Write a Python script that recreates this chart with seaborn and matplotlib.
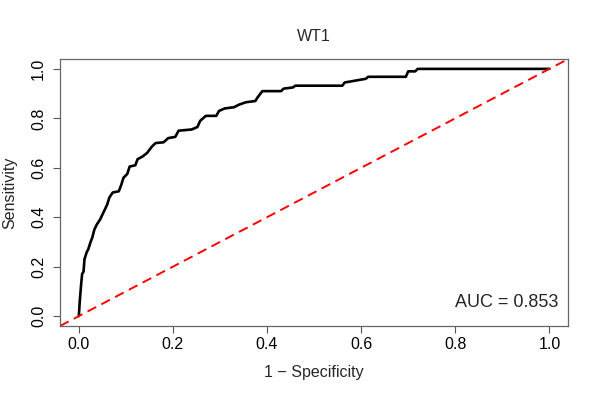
import numpy as np
import pandas as pd
import seaborn as sns
from matplotlib import pyplot as plt

# ROC curve points
fpr = [0.0, 0.002, 0.005, 0.007, 0.010, 0.012, 0.017, 0.020, 0.025, 0.029,
       0.033, 0.038, 0.045, 0.050, 0.055, 0.060, 0.065, 0.072, 0.085, 0.090,
       0.095, 0.103, 0.108, 0.120, 0.125, 0.135, 0.145, 0.155, 0.163, 0.180,
       0.190, 0.205, 0.212, 0.240, 0.252, 0.258, 0.270, 0.292, 0.298, 0.310,
       0.330, 0.340, 0.355, 0.375, 0.380, 0.390, 0.430, 0.435, 0.455, 0.460,
       0.560, 0.565, 0.580, 0.610, 0.615, 0.695, 0.700, 0.715, 0.720, 1.0]
tpr = [0.0, 0.06, 0.13, 0.17, 0.18, 0.23, 0.26, 0.27, 0.30, 0.32,
       0.35, 0.37, 0.39, 0.41, 0.43, 0.45, 0.48, 0.50, 0.505, 0.53,
       0.56, 0.575, 0.605, 0.61, 0.635, 0.645, 0.66, 0.685, 0.70, 0.703,
       0.72, 0.725, 0.75, 0.755, 0.765, 0.79, 0.81, 0.81, 0.83, 0.84,
       0.845, 0.855, 0.865, 0.87, 0.885, 0.91, 0.91, 0.92, 0.925, 0.932,
       0.932, 0.945, 0.95, 0.96, 0.968, 0.968, 0.99, 0.99, 1.0, 1.0]
auc_text = "AUC = 0.853"
ticks = [0.0, 0.2, 0.4, 0.6, 0.8, 1.0]

sns.set_style("white")
plt.rcParams['font.family'] = ['Liberation Sans', 'DejaVu Sans']

df = pd.DataFrame({"fpr": fpr, "tpr": tpr})

fig = plt.figure(figsize=(6, 4), dpi=100)
ax = fig.add_axes([0.1, 0.185, 0.847, 0.6675])

sns.lineplot(data=df, x="fpr", y="tpr", sort=False, estimator=None,
             color="black", linewidth=1.9, ax=ax)
ax.axline((0, 0), (1, 1), color="red", linestyle=(0, (5, 3)), linewidth=1.4)

ax.set_xlim(-0.04, 1.04)
ax.set_ylim(-0.04, 1.04)
ax.set_xticks(ticks)
ax.set_yticks(ticks)
ax.set_xticklabels([f"{t:.1f}" for t in ticks], fontsize=11.5)
ax.set_yticklabels([f"{t:.1f}" for t in ticks], fontsize=11.5, rotation=90, va="center")
ax.tick_params(direction="out", length=5, width=0.8, color="#555555",
               bottom=True, left=True, labelcolor="black")
ax.tick_params(axis="x", pad=3)
ax.tick_params(axis="y", pad=5)
for s in ax.spines.values():
    s.set_color("#666666")
    s.set_linewidth(0.9)

ax.set_xlabel("1 \u2212 Specificity", fontsize=11.5, labelpad=9)
ax.set_ylabel("Sensitivity", fontsize=11.5, labelpad=10)
ax.set_title("WT1", fontsize=11.5, pad=13)
ax.text(1.02, 0.035, auc_text, fontsize=13, ha="right", va="baseline")

fig.savefig("out.png", dpi=100)
